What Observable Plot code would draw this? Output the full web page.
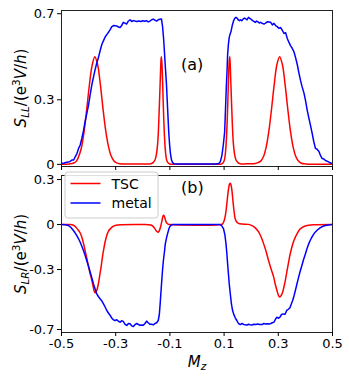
<!DOCTYPE html>
<html><head><meta charset="utf-8">
<script src="https://cdn.jsdelivr.net/npm/d3@7"></script>
<script src="https://cdn.jsdelivr.net/npm/@observablehq/plot@0.6"></script>
<style>
body{margin:0;background:#fff;}
#chart{position:relative;width:349px;height:378px;font-family:"DejaVu Sans",sans-serif;}
#chart svg{position:absolute;left:0;overflow:visible;}
</style></head><body><div id="chart"></div><script>
// ---- data ----
const xTicks = [-0.5, -0.3, -0.1, 0.1, 0.3, 0.5];
const xTickLabels = ["-0.5", "-0.3", "-0.1", "0.1", "0.3", "0.5"];
const yTicksLL = [0, 0.3, 0.7];
const yTickLabelsLL = ["0", "0.3", "0.7"];
const yTicksLR = [-0.7, -0.3, 0, 0.3];
const yTickLabelsLR = ["-0.7", "-0.3", "0", "0.3"];
const seriesNames = ["TSC", "metal"];
const panelLabels = ["(a)", "(b)"];

// S_LL, TSC  [Mz, value]
const tscLL = [
[-0.5,0],[-0.47,0.002],[-0.455,0.006],[-0.445,0.015],[-0.437,0.035],[-0.427,0.075],[-0.417,0.15],
[-0.407,0.255],[-0.397,0.37],[-0.387,0.46],[-0.377,0.5],[-0.367,0.465],[-0.357,0.375],[-0.347,0.26],
[-0.337,0.158],[-0.327,0.085],[-0.317,0.04],[-0.307,0.017],[-0.297,0.007],[-0.285,0.003],[-0.26,0.002],
[-0.2,0.002],[-0.17,0.003],[-0.162,0.008],[-0.155,0.02],[-0.15,0.045],[-0.145,0.1],[-0.141,0.2],
[-0.137,0.34],[-0.134,0.45],[-0.132,0.5],[-0.13,0.48],[-0.127,0.39],[-0.124,0.26],[-0.12,0.13],
[-0.116,0.055],[-0.112,0.02],[-0.106,0.006],[-0.1,0.002],[0,0.001],[0.09,0.002],[0.096,0.006],
[0.101,0.02],[0.105,0.055],[0.109,0.13],[0.113,0.26],[0.116,0.39],[0.119,0.48],[0.121,0.5],
[0.123,0.45],[0.126,0.34],[0.13,0.2],[0.134,0.1],[0.139,0.045],[0.144,0.02],[0.151,0.008],
[0.159,0.003],[0.195,0.003],[0.215,0.004],[0.225,0.008],[0.235,0.015],[0.245,0.035],[0.255,0.079],
[0.265,0.153],[0.275,0.257],[0.285,0.372],[0.295,0.464],[0.305,0.5],[0.315,0.464],[0.325,0.372],
[0.335,0.257],[0.345,0.153],[0.355,0.079],[0.365,0.035],[0.375,0.014],[0.385,0.005],[0.4,0.002],[0.5,0]
];
// S_LL, metal
const metalLL = [
[-0.5,0.004],[-0.49,0.006],[-0.48,0.01],[-0.47,0.012],[-0.462,0.02],[-0.455,0.02],[-0.45,0.034],
[-0.443,0.05],[-0.437,0.074],[-0.431,0.09],[-0.425,0.12],[-0.419,0.155],[-0.413,0.198],[-0.406,0.24],
[-0.4,0.277],[-0.394,0.325],[-0.388,0.37],[-0.382,0.405],[-0.376,0.44],[-0.37,0.47],[-0.364,0.495],
[-0.357,0.53],[-0.351,0.558],[-0.345,0.575],[-0.339,0.592],[-0.333,0.603],[-0.327,0.613],[-0.321,0.625],
[-0.315,0.639],[-0.308,0.645],[-0.302,0.644],[-0.296,0.643],[-0.29,0.638],[-0.284,0.636],[-0.278,0.645],
[-0.272,0.66],[-0.266,0.656],[-0.26,0.652],[-0.254,0.665],[-0.247,0.672],[-0.241,0.664],[-0.235,0.668],
[-0.229,0.666],[-0.222,0.664],[-0.215,0.666],[-0.208,0.664],[-0.2,0.667],[-0.193,0.665],[-0.187,0.668],
[-0.18,0.662],[-0.174,0.666],[-0.167,0.672],[-0.161,0.675],[-0.155,0.67],[-0.149,0.666],[-0.143,0.672],
[-0.137,0.674],[-0.131,0.675],[-0.127,0.64],[-0.123,0.58],[-0.12,0.52],[-0.117,0.456],[-0.113,0.38],
[-0.11,0.3],[-0.107,0.22],[-0.104,0.144],[-0.101,0.09],[-0.098,0.05],[-0.094,0.02],[-0.09,0.008],
[-0.085,0.003],[-0.07,0.002],[0,0.002],[0.07,0.002],[0.08,0.004],[0.086,0.012],[0.092,0.042],
[0.097,0.09],[0.102,0.15],[0.105,0.25],[0.108,0.355],[0.111,0.44],[0.113,0.51],[0.116,0.56],
[0.119,0.59],[0.122,0.605],[0.126,0.62],[0.13,0.645],[0.135,0.667],[0.139,0.678],[0.144,0.683],
[0.148,0.68],[0.152,0.672],[0.157,0.668],[0.161,0.672],[0.165,0.667],[0.17,0.675],[0.175,0.68],
[0.18,0.676],[0.185,0.672],[0.19,0.683],[0.195,0.678],[0.2,0.674],[0.205,0.668],[0.21,0.664],
[0.215,0.66],[0.22,0.666],[0.225,0.662],[0.23,0.657],[0.235,0.66],[0.241,0.655],[0.247,0.652],
[0.253,0.656],[0.26,0.663],[0.266,0.662],[0.272,0.66],[0.278,0.648],[0.284,0.655],[0.29,0.645],
[0.296,0.64],[0.302,0.632],[0.308,0.636],[0.314,0.625],[0.321,0.608],[0.327,0.612],[0.333,0.585],
[0.339,0.568],[0.345,0.552],[0.351,0.54],[0.358,0.522],[0.364,0.495],[0.37,0.464],[0.376,0.425],
[0.382,0.39],[0.388,0.36],[0.395,0.33],[0.4,0.3],[0.407,0.25],[0.413,0.214],[0.419,0.18],
[0.425,0.144],[0.431,0.105],[0.437,0.074],[0.443,0.07],[0.45,0.06],[0.456,0.04],[0.462,0.027],
[0.468,0.025],[0.474,0.018],[0.48,0.015],[0.487,0.01],[0.494,0.006],[0.5,0.003]
];
// S_LR, TSC
const tscLR = [
[-0.5,0],[-0.47,0],[-0.456,-0.005],[-0.447,-0.018],[-0.437,-0.04],[-0.43,-0.06],[-0.425,-0.085],
[-0.419,-0.125],[-0.413,-0.173],[-0.406,-0.23],[-0.4,-0.284],[-0.394,-0.33],[-0.388,-0.373],
[-0.383,-0.415],[-0.378,-0.451],[-0.375,-0.455],[-0.37,-0.44],[-0.364,-0.396],[-0.359,-0.34],
[-0.354,-0.284],[-0.35,-0.23],[-0.345,-0.173],[-0.339,-0.115],[-0.333,-0.073],[-0.327,-0.045],
[-0.32,-0.029],[-0.31,-0.013],[-0.302,-0.007],[-0.28,-0.002],[-0.2,0],[-0.17,-0.003],[-0.162,-0.012],
[-0.155,-0.029],[-0.149,-0.045],[-0.144,-0.051],[-0.14,-0.045],[-0.136,-0.025],[-0.133,-0.005],
[-0.13,0.02],[-0.127,0.045],[-0.124,0.062],[-0.121,0.058],[-0.118,0.04],[-0.115,0.022],[-0.111,0.008],
[-0.106,0.002],[-0.1,0],[0.09,0],[0.095,0.006],[0.1,0.025],[0.105,0.065],[0.109,0.12],[0.113,0.19],
[0.117,0.245],[0.12,0.27],[0.123,0.276],[0.126,0.26],[0.129,0.225],[0.132,0.17],[0.135,0.116],
[0.138,0.07],[0.141,0.038],[0.146,0.018],[0.153,0.008],[0.165,0.003],[0.19,0.001],[0.203,-0.007],
[0.215,-0.022],[0.228,-0.051],[0.237,-0.085],[0.246,-0.129],[0.255,-0.18],[0.264,-0.24],[0.274,-0.3],
[0.283,-0.351],[0.289,-0.4],[0.295,-0.44],[0.3,-0.47],[0.305,-0.484],[0.31,-0.475],[0.316,-0.451],
[0.321,-0.415],[0.326,-0.373],[0.332,-0.31],[0.338,-0.251],[0.344,-0.195],[0.35,-0.151],[0.356,-0.115],
[0.363,-0.084],[0.372,-0.052],[0.381,-0.029],[0.395,-0.013],[0.412,-0.005],[0.43,-0.002],[0.5,0]
];
// S_LR, metal
const metalLR = [
[-0.5,0],[-0.485,-0.002],[-0.474,-0.007],[-0.465,-0.02],[-0.456,-0.04],[-0.45,-0.055],[-0.444,-0.073],
[-0.437,-0.095],[-0.431,-0.118],[-0.425,-0.145],[-0.419,-0.173],[-0.413,-0.205],[-0.407,-0.24],
[-0.4,-0.28],[-0.394,-0.318],[-0.388,-0.357],[-0.382,-0.396],[-0.376,-0.43],[-0.37,-0.462],
[-0.364,-0.48],[-0.357,-0.496],[-0.351,-0.51],[-0.345,-0.529],[-0.339,-0.55],[-0.333,-0.573],
[-0.327,-0.59],[-0.32,-0.607],[-0.314,-0.625],[-0.308,-0.636],[-0.302,-0.64],[-0.296,-0.635],
[-0.29,-0.645],[-0.284,-0.651],[-0.278,-0.642],[-0.272,-0.646],[-0.266,-0.665],[-0.259,-0.673],
[-0.253,-0.66],[-0.247,-0.662],[-0.241,-0.676],[-0.235,-0.68],[-0.229,-0.668],[-0.222,-0.66],
[-0.216,-0.667],[-0.21,-0.672],[-0.204,-0.67],[-0.198,-0.672],[-0.192,-0.66],[-0.186,-0.644],
[-0.18,-0.655],[-0.174,-0.665],[-0.167,-0.665],[-0.161,-0.669],[-0.155,-0.66],[-0.149,-0.655],
[-0.143,-0.64],[-0.139,-0.6],[-0.136,-0.529],[-0.133,-0.45],[-0.13,-0.373],[-0.127,-0.3],
[-0.124,-0.24],[-0.12,-0.18],[-0.117,-0.129],[-0.112,-0.085],[-0.107,-0.051],[-0.103,-0.025],
[-0.1,-0.013],[-0.095,-0.004],[-0.09,0],[0.085,0],[0.092,-0.01],[0.098,-0.029],[0.103,-0.07],
[0.107,-0.129],[0.11,-0.19],[0.113,-0.262],[0.116,-0.33],[0.119,-0.396],[0.123,-0.465],[0.127,-0.529],
[0.131,-0.57],[0.135,-0.596],[0.141,-0.622],[0.147,-0.64],[0.153,-0.66],[0.16,-0.667],[0.166,-0.66],
[0.172,-0.666],[0.178,-0.668],[0.184,-0.671],[0.19,-0.665],[0.196,-0.668],[0.203,-0.67],[0.21,-0.665],
[0.217,-0.667],[0.224,-0.664],[0.231,-0.666],[0.24,-0.667],[0.247,-0.66],[0.253,-0.664],[0.26,-0.662],
[0.266,-0.664],[0.272,-0.66],[0.278,-0.655],[0.284,-0.651],[0.29,-0.63],[0.295,-0.618],[0.3,-0.625],
[0.306,-0.618],[0.312,-0.6],[0.319,-0.596],[0.325,-0.598],[0.331,-0.573],[0.337,-0.565],[0.343,-0.555],
[0.348,-0.53],[0.353,-0.507],[0.358,-0.475],[0.363,-0.44],[0.369,-0.395],[0.375,-0.351],[0.381,-0.31],
[0.387,-0.273],[0.393,-0.235],[0.4,-0.196],[0.406,-0.16],[0.412,-0.129],[0.418,-0.105],[0.424,-0.084],
[0.43,-0.066],[0.436,-0.051],[0.445,-0.035],[0.454,-0.022],[0.463,-0.013],[0.473,-0.007],[0.485,-0.003],[0.5,0]
];

// ---- styles ----
const RED = "#ff0000", BLUE = "#0000ff", SPINE = "#222";
const FONT = '"DejaVu Sans", sans-serif';
const root = document.getElementById("chart");
const baseStyle = {fontFamily: FONT, fontSize: "13px", color: "#000", background: "none", overflow: "visible"};
const lab = (ticks, labels) => d => labels[ticks.findIndex(t => Math.abs(t - d) < 1e-9)];
const xy = {x: d => d[0], y: d => d[1]};

const plotA = Plot.plot({
  width: 349, height: 170, marginTop: 10, marginBottom: 4, marginLeft: 61, marginRight: 17,
  style: baseStyle,
  x: {domain: [-0.5, 0.5]},
  y: {domain: [-0.01, 0.715]},
  marks: [
    Plot.line(tscLL, {...xy, stroke: RED, strokeWidth: 1.5, curve: "catmull-rom", clip: true}),
    Plot.line(metalLL, {...xy, stroke: BLUE, strokeWidth: 1.5, clip: true}),
    Plot.frame({stroke: SPINE, strokeWidth: 1}),
    Plot.axisY({ticks: yTicksLL, tickFormat: lab(yTicksLL, yTickLabelsLL), tickSize: 4, tickPadding: 3, label: null}),
    Plot.axisX({ticks: xTicks, tickFormat: () => "", tickSize: 4, label: null})
  ]
});
plotA.style.top = "0px";
root.appendChild(plotA);

const plotB = Plot.plot({
  width: 349, height: 208, marginTop: 5, marginBottom: 46, marginLeft: 61, marginRight: 17,
  style: baseStyle,
  x: {domain: [-0.5, 0.5]},
  y: {domain: [-0.72, 0.327]},
  marks: [
    Plot.line(tscLR, {...xy, stroke: RED, strokeWidth: 1.5, curve: "catmull-rom", clip: true}),
    Plot.line(metalLR, {...xy, stroke: BLUE, strokeWidth: 1.5, clip: true}),
    Plot.frame({stroke: SPINE, strokeWidth: 1}),
    Plot.axisY({ticks: yTicksLR, tickFormat: lab(yTicksLR, yTickLabelsLR), tickSize: 4, tickPadding: 3, label: null}),
    Plot.axisX({ticks: xTicks, tickFormat: lab(xTicks, xTickLabels), tickSize: 4, tickPadding: 2, label: null})
  ]
});
plotB.style.top = "170px";
root.appendChild(plotB);

// ---- overlay: axis titles, panel labels, legend ----
const ov = d3.select(root).append("svg")
  .attr("width", 349).attr("height", 378)
  .style("top", "0px").style("pointer-events", "none")
  .attr("font-family", FONT);

function yTitle(cx, cy, sub) {
  const t = ov.append("text").attr("transform", `translate(${cx},${cy}) rotate(-90)`)
    .attr("text-anchor", "middle").attr("font-size", 15).attr("fill", "#000");
  t.append("tspan").attr("font-style", "italic").text("S");
  t.append("tspan").attr("font-style", "italic").attr("font-size", 10.5).attr("dy", 3).text(sub);
  t.append("tspan").attr("dy", -3).text("/(e");
  t.append("tspan").attr("font-size", 10.5).attr("dy", -6).text("3");
  t.append("tspan").attr("font-style", "italic").attr("dy", 6).text("V");
  t.append("tspan").text("/");
  t.append("tspan").attr("font-style", "italic").text("h");
  t.append("tspan").text(")");
}
yTitle(26, 88, "LL");
yTitle(26, 254, "LR");

const xt = ov.append("text").attr("x", 197).attr("y", 367).attr("text-anchor", "middle")
  .attr("font-size", 15).attr("fill", "#000");
xt.append("tspan").attr("font-style", "italic").text("M");
xt.append("tspan").attr("font-style", "italic").attr("font-size", 10.5).attr("dy", 3).text("z");

ov.append("text").attr("x", 181).attr("y", 69.5).attr("font-size", 16).attr("fill", "#000").text(panelLabels[0]);
ov.append("text").attr("x", 181).attr("y", 193).attr("font-size", 16).attr("fill", "#000").text(panelLabels[1]);

const lg = ov.append("g");
lg.append("rect").attr("x", 65).attr("y", 172).attr("width", 93).attr("height", 46).attr("rx", 3)
  .attr("fill", "#fff").attr("fill-opacity", 0.85).attr("stroke", "#ccc").attr("stroke-width", 1);
[[RED, 183.5, 188.5], [BLUE, 203, 208]].forEach(([c, ly, ty], i) => {
  lg.append("line").attr("x1", 70.5).attr("x2", 100.5).attr("y1", ly).attr("y2", ly)
    .attr("stroke", c).attr("stroke-width", 1.5);
  lg.append("text").attr("x", 111.5).attr("y", ty).attr("font-size", 14).attr("fill", "#000").text(seriesNames[i]);
});
</script></body></html>
